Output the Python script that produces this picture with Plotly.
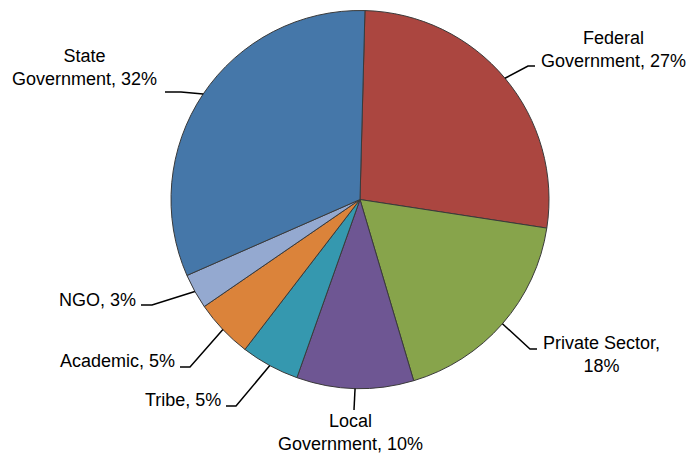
import math
import plotly.graph_objects as go

# Share of respondents by sector (percent), in drawing order (clockwise from top)
sectors = ["Federal Government", "Private Sector", "Local Government", "Tribe",
           "Academic", "NGO", "State Government"]
label_text = ["Federal<br>Government, 27%", "Private Sector,<br>18%",
              "Local<br>Government, 10%", "Tribe, 5%", "Academic, 5%",
              "NGO, 3%", "State<br>Government, 32%"]
shares = [27, 18, 10, 5, 5, 3, 32]
colors = ["#AB4640", "#87A44B", "#6E5693", "#3598AF", "#DB833A", "#94A9D0", "#4577A9"]

# Canvas and pie geometry (pixels)
W, H = 690, 456
CX, CY, R = 360, 199.5, 189
ROTATION = 1.5

# Label placement: elbow point of the leader line, end of the horizontal stub,
# and where the label text sits (x, y, xanchor)
label_layout = {
    "Federal Government": dict(elbow=(528, 66), stub=535, text=(613, 49.5, "center")),
    "Private Sector":     dict(elbow=(530, 349), stub=537, text=(601, 354.5, "center")),
    "Local Government":   dict(elbow=(354, 410), stub=354, text=(351, 432, "center")),
    "Tribe":              dict(elbow=(236, 406), stub=226, text=(223, 399.7, "right")),
    "Academic":           dict(elbow=(190, 367), stub=180, text=(177, 360.7, "right")),
    "NGO":                dict(elbow=(152, 305), stub=141, text=(138, 299.7, "right")),
    "State Government":   dict(elbow=(181, 92), stub=165, text=(84.5, 67.3, "center")),
}


def px(x):
    return x / W


def py(y):
    return 1 - y / H


fig = go.Figure(go.Pie(
    labels=sectors,
    values=shares,
    sort=False,
    direction="clockwise",
    rotation=ROTATION,
    marker=dict(colors=colors, line=dict(color="#3a3a3a", width=1)),
    textinfo="none",
    hoverinfo="label+percent",
    showlegend=False,
    domain=dict(x=[px(CX - R), px(CX + R)], y=[py(CY + R), py(CY - R)]),
))

shapes = []
annotations = []
total = sum(shares)
cum = 0
for name, txt, v in zip(sectors, label_text, shares):
    mid = math.radians(ROTATION + 360 * (cum + v / 2) / total)
    cum += v
    x0 = CX + R * math.sin(mid)
    y0 = CY - R * math.cos(mid)
    lay = label_layout[name]
    ex, ey = lay["elbow"]
    sx = lay["stub"]
    path = f"M {px(x0)} {py(y0)} L {px(ex)} {py(ey)} L {px(sx)} {py(ey)}"
    shapes.append(dict(type="path", xref="paper", yref="paper", path=path,
                       line=dict(color="#000000", width=1.5)))
    tx, ty, anchor = lay["text"]
    annotations.append(dict(
        x=px(tx), y=py(ty), xref="paper", yref="paper",
        text=txt, showarrow=False, xanchor=anchor, yanchor="middle",
        align="center",
        font=dict(family="Liberation Sans, Arial, sans-serif", size=18, color="#000000"),
    ))

fig.update_layout(
    width=W, height=H,
    margin=dict(l=0, r=0, t=0, b=0),
    paper_bgcolor="white",
    plot_bgcolor="white",
    shapes=shapes,
    annotations=annotations,
)

fig.write_html("out.html")
